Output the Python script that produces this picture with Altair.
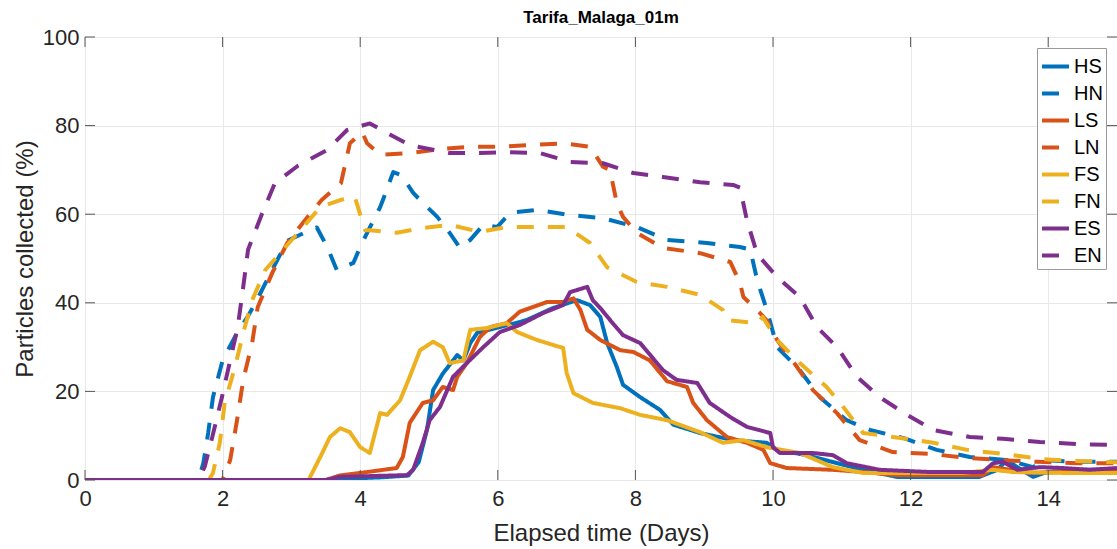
import altair as alt
import pandas as pd

# ---------------- data ----------------
names = ["HS", "HN", "LS", "LN", "FS", "FN", "ES", "EN"]
colors = ["#0072BD", "#0072BD", "#D95319", "#D95319", "#EDB120", "#EDB120", "#7E2F8E", "#7E2F8E"]
dashes = [[1, 0], [17, 14], [1, 0], [17, 14], [1, 0], [17, 14], [1, 0], [17, 14]]

x_ticks = [0, 2, 4, 6, 8, 10, 12, 14]
y_ticks = [0, 20, 40, 60, 80, 100]

hs_x = [0, 3.5, 3.8, 4.3, 4.7, 4.85, 4.97, 5.06, 5.2, 5.41, 5.5, 5.6, 5.7, 6.03, 6.42, 6.8, 7.15, 7.34, 7.49,
        7.59, 7.73, 7.82, 8.07, 8.36, 8.55, 8.94, 9.42, 9.91, 10.06, 10.49, 10.83, 11.31, 11.8, 13.0, 13.26,
        13.4, 13.55, 13.78, 13.98, 14.5, 15]
hs_y = [0, 0, 0.3, 0.6, 1.0, 4, 11.3, 20.3, 24, 28.2, 27, 30.9, 33.2, 34.5, 36.1, 38.8, 40.6, 39.5, 36.8,
        30.9, 25.5, 21.5, 18.7, 15.8, 12.5, 10.6, 9, 8.4, 6.8, 5.6, 4.2, 2.3, 0.7, 0.7, 2.3,
        4.5, 2.9, 0.7, 1.8, 2.3, 2.3]

hn_x = [0, 1.65, 1.72, 1.79, 1.86, 2.0, 2.21, 2.37, 2.51, 2.72, 2.94, 3.27, 3.37, 3.52, 3.66, 3.9, 4.0, 4.1,
        4.29, 4.33, 4.48, 4.6, 4.77, 4.87, 5.12, 5.3, 5.45, 5.6, 5.79, 5.99, 6.18, 6.57, 7.05, 7.53, 8.02,
        8.46, 9.04, 9.52, 9.67, 9.77, 9.91, 10.06, 10.39, 10.68, 11.07, 11.41, 11.89, 12.38, 12.86, 13.4,
        13.78, 13.92, 14.42, 15]
hn_y = [0, 0, 3.8, 10.6, 18.7, 27, 33.2, 37, 41, 47.4, 54, 56.4, 57, 52.6, 47.4, 49, 52.6, 55.8,
        61.6, 63.2, 69.5, 68.8, 64.8, 63.2, 59.4, 55.8, 52.4, 54.2, 57.6, 57.1, 60.3, 61, 59.8, 59.1, 57.1,
        54.2, 53.5, 52.6, 52, 45.1, 38.4, 30, 24.8, 18.7, 13.5, 11.3, 9.5, 6.8, 5.2, 4.5,
        2.9, 4.5, 4.1, 4.1]

ls_x = [0, 3.5, 3.7, 4.1, 4.53, 4.62, 4.72, 4.91, 5.06, 5.2, 5.35, 5.41, 5.55, 5.74, 5.89, 6.13, 6.32, 6.72,
        6.95, 7.1, 7.2, 7.3, 7.49, 7.78, 7.97, 8.21, 8.46, 8.75, 8.84, 9.04, 9.33, 9.62, 9.86, 9.96, 10.2,
        10.87, 11.31, 11.8, 13.05, 13.2, 13.73, 14.22, 15]
ls_y = [0, 0, 1.0, 1.8, 2.7, 5.2, 12.9, 17.4, 18, 21, 20.3, 23.3, 26.4, 32.3, 34.5, 35.4, 38, 40.2,
        40.2, 41, 38.4, 33.9, 31.6, 29.3, 28.9, 27, 22.3, 21, 17.4, 13.5, 9.7, 8.4, 6.8, 3.8, 2.7,
        2.3, 1.8, 1.1, 1.1, 2.9, 1.6, 1.8, 1.8]

ln_x = [0, 2.0, 2.11, 2.21, 2.30, 2.43, 2.51, 2.72, 2.94, 3.2, 3.44, 3.72, 3.85, 4.03, 4.1, 4.29, 4.72, 5.16,
        5.6, 6.03, 6.47, 6.95, 7.34, 7.53, 7.63, 7.73, 7.82, 8.02, 8.4, 8.94, 9.38, 9.52, 9.57, 9.81, 9.91,
        10.06, 10.35, 10.58, 10.93, 11.26, 11.74, 12.28, 12.82, 13.3, 13.84, 14.42, 15]
ln_y = [0, 0, 4.5, 13.5, 22.6, 31, 39, 46.7, 53.5, 58.7, 63.2, 67, 76, 78.5, 76, 73.4, 73.8, 74.7,
        75.2, 75.2, 75.6, 76, 75.2, 70.7, 70, 62.5, 59.4, 55.8, 52.4, 51.2, 49.2, 44.5, 41.3, 37.7, 36,
        31.6, 25.5, 20.3, 15.1, 9, 6.3, 5.9, 5, 4.5, 4.1, 3.8, 3.8]

fs_x = [0, 3.25, 3.42, 3.56, 3.71, 3.85, 4.0, 4.14, 4.29, 4.39, 4.58, 4.72, 4.87, 5.06, 5.2, 5.3, 5.5, 5.6,
        5.84, 6.13, 6.28, 6.57, 6.8, 6.95, 7.0, 7.1, 7.38, 7.78, 8.07, 8.46, 8.94, 9.27, 9.57, 9.91, 10.39,
        10.87, 11.31, 12.76, 13.2, 13.49, 14.22, 15]
fs_y = [0, 0, 5.2, 9.7, 11.7, 10.8, 7.4, 6.1, 15.1, 14.7, 18, 23.3, 29.3, 31.2, 30, 26.4, 27, 33.9,
        34.3, 35.4, 33.4, 31.6, 30.5, 29.8, 24.2, 19.6, 17.4, 16.2, 14.7, 13.5, 10.8, 8.4, 9, 7.4, 6.1,
        2.9, 1.6, 1.6, 2.3, 1.8, 1.6, 1.6]

fn_x = [0, 1.8, 1.86, 1.96, 2.03, 2.18, 2.30, 2.43, 2.62, 2.88, 3.17, 3.42, 3.71, 3.92, 4.07, 4.14, 4.53,
        4.91, 5.3, 5.74, 6.13, 6.51, 7.0, 7.34, 7.59, 8.02, 8.46, 8.94, 9.27, 9.33, 9.77, 9.85, 10.06, 10.39,
        10.78, 11.02, 11.31, 11.85, 12.33, 12.82, 13.34, 13.92, 14.42, 15]
fn_y = [0, 0, 1.6, 8.4, 17.4, 25.5, 33.2, 40.6, 47.4, 52, 57.1, 61.6, 63.2, 64, 56.4, 56.4, 55.8,
        56.9, 57.6, 56, 57.1, 57.1, 57.1, 53.5, 48, 44.7, 43.6, 41.8, 38.4, 36.1, 35.4, 36.8, 31.6, 26.4,
        21, 16.5, 10.6, 9.5, 8.4, 6.8, 5.9, 4.7, 4.3, 4]

es_x = [0, 3.5, 3.7, 4.68, 4.77, 4.91, 5.01, 5.16, 5.35, 5.55, 5.79, 6.03, 6.32, 6.66, 6.95, 7.05, 7.3, 7.38,
        7.49, 7.67, 7.82, 8.07, 8.4, 8.6, 8.9, 9.08, 9.38, 9.62, 9.96, 10.0, 10.1, 10.58, 10.87, 11.07, 11.55,
        12.28, 13.05, 13.2, 13.34, 13.55, 13.88, 14.22, 14.6, 15]
es_y = [0, 0, 0.7, 1.1, 2.3, 8.4, 13.5, 16.5, 23.3, 26.4, 30, 33.4, 35, 37.7, 39.5, 42.4, 43.6, 40.6,
        38.8, 35.4, 32.7, 30.9, 24.8, 22.6, 21.9, 17.4, 14.2, 12, 10.6, 7.4, 6.1, 6.1, 5.6, 3.8, 2.3,
        1.8, 1.8, 3.8, 4.1, 2.3, 2.9, 2.7, 2.3, 2.7]

en_x = [0, 1.65, 1.74, 1.85, 1.99, 2.11, 2.22, 2.30, 2.37, 2.57, 2.76, 3.1, 3.52, 3.81, 4.14, 4.43, 4.72,
        5.3, 5.74, 6.13, 6.61, 7.05, 7.53, 7.97, 8.4, 8.94, 9.42, 9.52, 9.62, 9.77, 10.06, 10.39, 10.64,
        10.93, 11.22, 11.55, 11.95, 12.33, 12.86, 13.34, 13.88, 14.42, 15]
en_y = [0, 0, 3, 9.7, 18.7, 27, 34.5, 43.6, 52, 60, 67, 71, 74.5, 79, 80.5, 78, 75.6,
        73.8, 73.8, 74, 73.8, 71.8, 71.5, 69.3, 68.4, 67.2, 66.6, 66, 58.7, 51, 45.8, 41.3, 34.5,
        30, 23.3, 18.7, 14.7, 11.3, 9.7, 9.3, 8.6, 8.1, 7.9]

series_x = [hs_x, hn_x, ls_x, ln_x, fs_x, fn_x, es_x, en_x]
series_y = [hs_y, hn_y, ls_y, ln_y, fs_y, fn_y, es_y, en_y]

rows = []
for name, xs, ys in zip(names, series_x, series_y):
    for i, (xv, yv) in enumerate(zip(xs, ys)):
        rows.append({"series": name, "day": xv, "pct": yv, "idx": i})
df = pd.DataFrame(rows)

FONT = "Liberation Sans"
W, H = 1032, 443

xscale = alt.Scale(domain=[0, 15], nice=False, zero=False)
yscale = alt.Scale(domain=[0, 100], nice=False, zero=False)

x_axis = alt.Axis(values=x_ticks, title="Elapsed time (Days)", labelPadding=8, labelFlush=False,
                  titleY=53, titleBaseline="middle", format="d")
y_axis = alt.Axis(values=y_ticks, title="Particles collected (%)", labelPadding=6, labelFlush=False,
                  titleX=-60, titleBaseline="middle", titleAngle=-90)

legend_kw = dict(
    orient="none", legendX=952, legendY=11, title=None,
    symbolType="stroke", symbolSize=729, symbolStrokeWidth=4,
    labelFontSize=20, labelFont=FONT, labelColor="#000000", labelOffset=3,
    rowPadding=1, padding=3, strokeColor="#999999", fillColor="white",
    cornerRadius=0, labelLimit=100,
)

lines = alt.Chart(df).mark_line(strokeWidth=4, clip=True, strokeJoin="round").encode(
    x=alt.X("day:Q", scale=xscale, axis=x_axis),
    y=alt.Y("pct:Q", scale=yscale, axis=y_axis),
    color=alt.Color("series:N", scale=alt.Scale(domain=names, range=colors), legend=alt.Legend(**legend_kw)),
    strokeDash=alt.StrokeDash("series:N", scale=alt.Scale(domain=names, range=dashes),
                              legend=alt.Legend(**legend_kw)),
    order="idx:Q",
)

xt = pd.DataFrame({"day": x_ticks})
yt = pd.DataFrame({"pct": y_ticks})
tick_color = "#555555"

xb = alt.Chart(xt).mark_rule(color=tick_color, strokeWidth=1).encode(
    x=alt.X("day:Q", scale=xscale, axis=x_axis), y=alt.value(H), y2=alt.value(H - 10))
xtop = alt.Chart(xt).mark_rule(color=tick_color, strokeWidth=1).encode(
    x=alt.X("day:Q", scale=xscale, axis=x_axis), y=alt.value(0), y2=alt.value(10))
yl = alt.Chart(yt).mark_rule(color=tick_color, strokeWidth=1).encode(
    y=alt.Y("pct:Q", scale=yscale, axis=y_axis), x=alt.value(0), x2=alt.value(10))
yr = alt.Chart(yt).mark_rule(color=tick_color, strokeWidth=1).encode(
    y=alt.Y("pct:Q", scale=yscale, axis=y_axis), x=alt.value(W), x2=alt.value(W - 10))

chart = alt.layer(lines, xb, xtop, yl, yr).properties(
    width=W, height=H,
    title=alt.TitleParams("Tarifa_Malaga_01m", fontSize=17, fontWeight="bold", font=FONT,
                          color="#000000", anchor="middle", offset=-1),
    autosize=alt.AutoSizeParams(type="none"),
    padding={"left": 85, "top": 37, "right": 0, "bottom": 69},
).configure_view(
    stroke="#999999", strokeWidth=1
).configure_axis(
    domain=False, ticks=False, grid=True, gridColor="#e8e8e8", gridWidth=1,
    labelFont=FONT, titleFont=FONT, labelFontSize=22, titleFontSize=24,
    labelColor="#262626", titleColor="#262626", titleFontWeight="normal",
)

chart.save("out.html", embed_options={"renderer": "svg", "actions": False})
